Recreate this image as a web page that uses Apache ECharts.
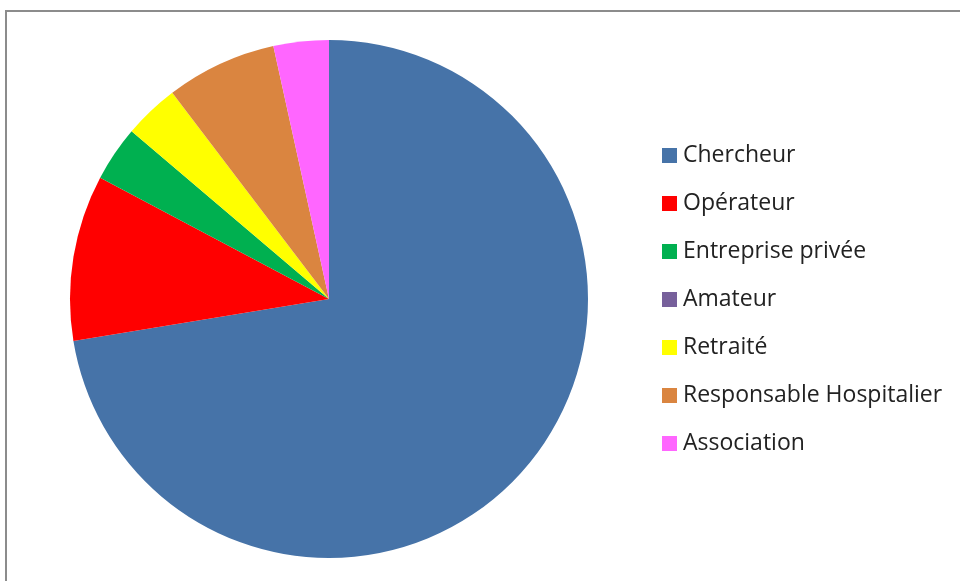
<!DOCTYPE html>
<html>
<head>
<meta charset="utf-8">
<script src="https://cdn.jsdelivr.net/npm/echarts@6/dist/echarts.min.js"></script>
<style>
  html, body { margin: 0; padding: 0; background: #fff; }
  #frame { position: absolute; left: 5px; top: 10px; width: 1000px; height: 600px;
           border-left: 2px solid #8c8c8c; border-top: 2px solid #8c8c8c; box-sizing: border-box; }
  #chart { position: absolute; left: 0; top: 0; width: 960px; height: 581px; }
</style>
</head>
<body>
<div id="frame"></div>
<div id="chart"></div>
<script>
// Répartition des répondants par profil
const categories = ['Chercheur', 'Opérateur', 'Entreprise privée', 'Amateur', 'Retraité', 'Responsable Hospitalier', 'Association'];
const counts = [21, 3, 1, 0, 1, 2, 1];
const colors = ['#4673A8', '#FF0000', '#00B050', '#77609B', '#FFFF00', '#DA8540', '#FF66FF'];

const chart = echarts.init(document.getElementById('chart'), null, { renderer: 'canvas' });
chart.setOption({
  animation: false,
  color: colors,
  legend: {
    orient: 'vertical',
    left: 657,
    top: 139,
    itemWidth: 15,
    itemHeight: 15,
    itemGap: 25,
    icon: 'rect',
    textStyle: { fontFamily: 'Open Sans', fontSize: 23, lineHeight: 22, color: '#222', padding: [0, 0, 0, 1] },
    data: categories
  },
  series: [{
    type: 'pie',
    center: [329, 299],
    radius: [0, 259],
    startAngle: 90,
    clockwise: true,
    label: { show: false },
    labelLine: { show: false },
    emphasis: { disabled: true },
    itemStyle: { borderWidth: 0 },
    data: categories.map((name, i) => ({ name, value: counts[i] }))
  }]
});
</script>
</body>
</html>
